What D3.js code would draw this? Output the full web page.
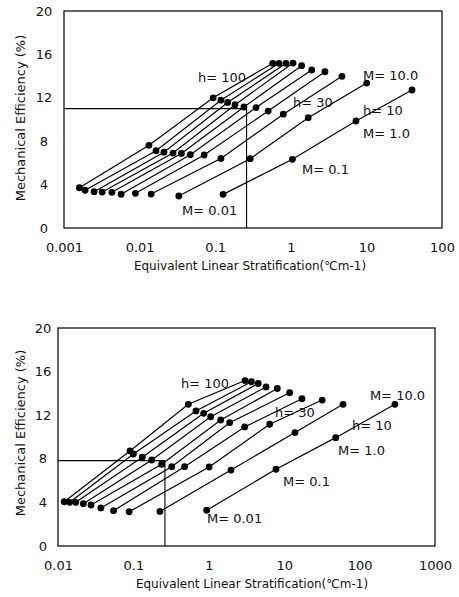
<!DOCTYPE html>
<html>
<head>
<meta charset="utf-8">
<script src="https://cdn.jsdelivr.net/npm/d3@7"></script>
<style>
  body { margin: 0; background: #fff; }
  svg { display: block; font-family: "DejaVu Sans", sans-serif; }
</style>
</head>
<body>
<svg id="chart" width="459" height="597"></svg>
<script>
// ---- data ----
// each line is one h value, points go M = 0.01, 0.1, 1.0, 10.0

var yTicks = [0, 4, 8, 12, 16, 20]

// upper panel
var topXTicks = [0.001, 0.01, 0.1, 1, 10, 100]
var topXTickLabels = ["0.001", "0.01", "0.1", "1", "10", "100"]
var topStratM001 = [0.0016, 0.0019, 0.0025, 0.0032, 0.0043, 0.0057, 0.0088, 0.0142, 0.033, 0.127]
var topEffM001   = [3.71, 3.48, 3.35, 3.31, 3.29, 3.11, 3.2, 3.13, 2.95, 3.1]
var topStratM01  = [0.0133, 0.0165, 0.021, 0.0277, 0.0357, 0.0469, 0.0714, 0.119, 0.291, 1.05]
var topEffM01    = [7.62, 7.12, 6.99, 6.91, 6.87, 6.76, 6.73, 6.41, 6.39, 6.33]
var topStratM1   = [0.094, 0.119, 0.146, 0.183, 0.24, 0.347, 0.502, 0.796, 1.7, 7.28]
var topEffM1     = [12.0, 11.78, 11.57, 11.36, 11.15, 11.1, 10.78, 10.49, 10.17, 9.86]
var topStratM10  = [0.577, 0.698, 0.865, 1.07, 1.39, 1.89, 2.83, 4.75, 10.1, 40.1]
var topEffM10    = [15.18, 15.18, 15.18, 15.2, 14.96, 14.56, 14.4, 13.98, 13.36, 12.72]
var topRef = [0.26, 11.0]
var topNotes = [
  ["h= 100", 0.0592, 13.46], ["h= 30", 1.07, 11.15], ["M= 10.0", 9.02, 13.64],
  ["h= 10", 9.02, 10.41], ["M= 1.0", 9.02, 8.29], ["M= 0.1", 1.41, 4.98], ["M= 0.01", 0.0364, 1.2]
]

// lower panel
var botXTicks = [0.01, 0.1, 1, 10, 100, 1000]
var botXTickLabels = ["0.01", "0.1", "1", "10", "100", "1000"]
var botStratM001 = [0.0121, 0.0143, 0.0172, 0.0217, 0.0274, 0.037, 0.0546, 0.0877, 0.225, 0.937]
var botEffM001   = [4.06, 4.01, 4.01, 3.88, 3.76, 3.49, 3.24, 3.14, 3.17, 3.28]
var botStratM01  = [0.0901, 0.1, 0.131, 0.175, 0.237, 0.322, 0.477, 1.01, 1.97, 7.78]
var botEffM01    = [8.72, 8.44, 8.14, 7.89, 7.5, 7.28, 7.28, 7.25, 6.97, 7.04]
var botStratM1   = [0.535, 0.676, 0.855, 1.06, 1.44, 1.89, 2.99, 6.42, 13.9, 48.2]
var botEffM1     = [13.0, 12.39, 12.17, 11.86, 11.56, 11.31, 10.92, 11.17, 10.41, 9.94]
var botStratM10  = [3.02, 3.68, 4.53, 5.74, 8.1, 11.8, 17.2, 31.9, 60.3, 294]
var botEffM10    = [15.18, 15.07, 14.91, 14.59, 14.45, 14.06, 13.51, 13.39, 13.0, 13.0]
var botRef = [0.262, 7.83]
var botNotes = [
  ["h= 100", 0.428, 14.5], ["h= 30", 7.55, 11.83], ["M= 10.0", 137, 13.39],
  ["h= 10", 79.3, 10.64], ["M= 1.0", 51.8, 8.35], ["M= 0.1", 9.64, 5.5], ["M= 0.01", 0.946, 2.11]
]

var svg = d3.select("#chart")

//build the h-lines (one per index) from the M rows
function buildLines(strats, effs) {
  var lines = []
  for (var i = 0; i < strats[0].length; i++) {
    var pts = []
    for (var m = 0; m < strats.length; m++) {
      pts.push([strats[m][i], effs[m][i]])
    }
    lines.push(pts)
  }
  return lines
}

function drawPanel(p) {
  var x = d3.scaleLog().domain(p.xDomain).range([p.left, p.right])
  var y = d3.scaleLinear().domain([0, 20]).range([p.bottom, p.top])
  var g = svg.append("g")

  // frame
  g.append("rect")
    .attr("x", p.left).attr("y", p.top)
    .attr("width", p.right - p.left).attr("height", p.bottom - p.top)
    .attr("fill", "none").attr("stroke", "#000").attr("stroke-width", 1.2)

  // x tick labels
  var xa = g.append("g").attr("transform", "translate(0," + p.bottom + ")")
    .call(d3.axisBottom(x).tickValues(p.xTicks)
      .tickFormat(function(d, i) { return p.xLabels[i] })
      .tickSize(0).tickPadding(15))
  xa.select(".domain").remove()
  xa.selectAll("text").attr("font-size", 13).attr("font-family", "DejaVu Sans").attr("fill", "#111")

  // y tick labels
  var ya = g.append("g").attr("transform", "translate(" + p.left + ",0)")
    .call(d3.axisLeft(y).tickValues(yTicks).tickSize(0))
  ya.select(".domain").remove()
  ya.selectAll("text").attr("font-size", 13).attr("font-family", "DejaVu Sans").attr("fill", "#111")
    .attr("text-anchor", "middle").attr("x", p.yLabelX - p.left)

  // axis titles
  g.append("text")
    .attr("x", p.xTitleX).attr("y", p.xTitleY)
    .attr("text-anchor", "middle").attr("font-size", 12).attr("fill", "#111")
    .text("Equivalent Linear Stratification(\u2103m-1)")
  g.append("text")
    .attr("transform", "translate(" + p.yTitleX + "," + p.yTitleMid + ") rotate(-90)")
    .attr("text-anchor", "middle").attr("font-size", 13).attr("fill", "#111")
    .text("Mechanical Efficiency (%)")

  // reference lines
  g.append("line")
    .attr("x1", p.left).attr("x2", x(p.ref[0]))
    .attr("y1", y(p.ref[1])).attr("y2", y(p.ref[1]))
    .attr("stroke", "#000").attr("stroke-width", 1.1)
  g.append("line")
    .attr("x1", x(p.ref[0])).attr("x2", x(p.ref[0]))
    .attr("y1", y(p.ref[1])).attr("y2", y(0))
    .attr("stroke", "#000").attr("stroke-width", 1.1)

  // series lines
  var line = d3.line().x(function(d) { return x(d[0]) }).y(function(d) { return y(d[1]) })
  var lines = buildLines(p.strats, p.effs)
  g.selectAll(".hline").data(lines).enter().append("path")
    .attr("d", line).attr("fill", "none").attr("stroke", "#000").attr("stroke-width", 1.2)

  // dots
  var pts = [].concat.apply([], lines)
  g.selectAll(".dot").data(pts).enter().append("circle")
    .attr("cx", function(d) { return x(d[0]) })
    .attr("cy", function(d) { return y(d[1]) })
    .attr("r", 3.4).attr("fill", "#000")

  // annotations
  g.selectAll(".note").data(p.notes).enter().append("text")
    .attr("x", function(d) { return x(d[1]) })
    .attr("y", function(d) { return y(d[2]) })
    .attr("font-size", 13).attr("fill", "#111")
    .text(function(d) { return d[0] })
}

drawPanel({
  left: 64, right: 442, top: 11, bottom: 228,
  xDomain: [0.001, 100], xTicks: topXTicks, xLabels: topXTickLabels,
  yLabelX: 44, xTitleX: 250, xTitleY: 270, yTitleX: 25, yTitleMid: 118,
  strats: [topStratM001, topStratM01, topStratM1, topStratM10],
  effs: [topEffM001, topEffM01, topEffM1, topEffM10],
  ref: topRef, notes: topNotes
})

drawPanel({
  left: 58, right: 435, top: 328, bottom: 546,
  xDomain: [0.01, 1000], xTicks: botXTicks, xLabels: botXTickLabels,
  yLabelX: 43, xTitleX: 252, xTitleY: 588, yTitleX: 25, yTitleMid: 433,
  strats: [botStratM001, botStratM01, botStratM1, botStratM10],
  effs: [botEffM001, botEffM01, botEffM1, botEffM10],
  ref: botRef, notes: botNotes
})
</script>
</body>
</html>
